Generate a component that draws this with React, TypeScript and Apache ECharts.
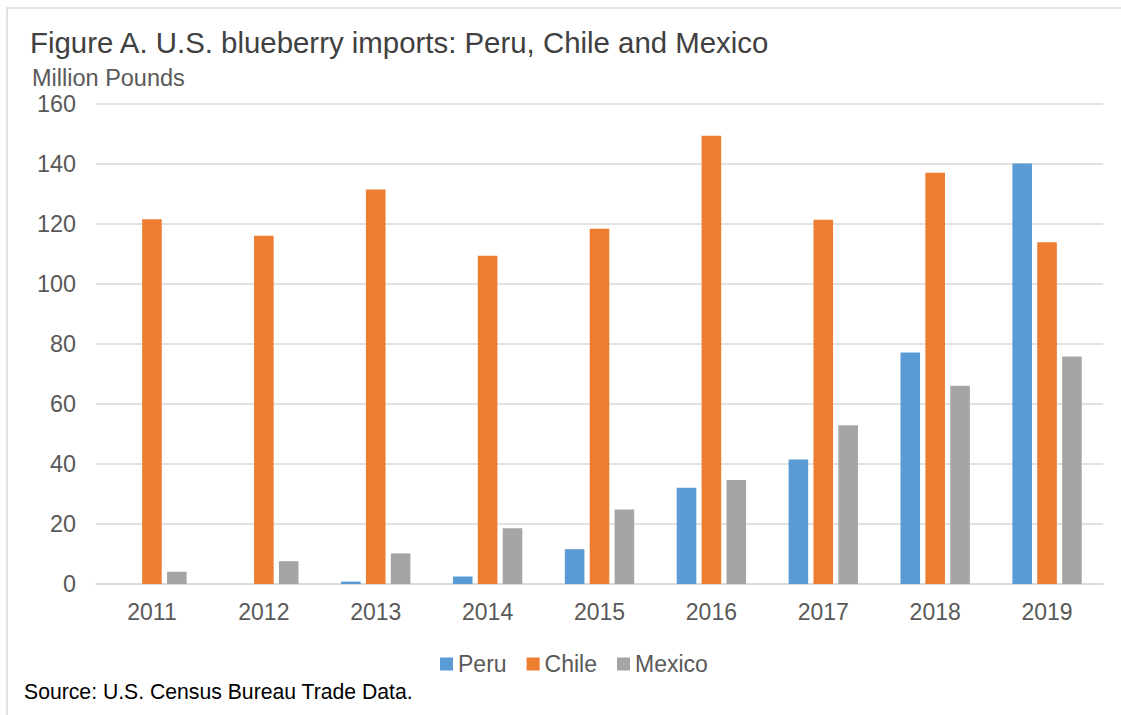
import React, { useEffect, useRef } from "react";
import * as echarts from "echarts";

const years = ["2011", "2012", "2013", "2014", "2015", "2016", "2017", "2018", "2019"];
const peru = [0, 0, 0.8, 2.5, 11.6, 32.1, 41.5, 77.2, 140.2];
const chile = [121.6, 116.1, 131.5, 109.4, 118.4, 149.4, 121.4, 137.1, 113.9];
const mexico = [4.1, 7.6, 10.2, 18.6, 24.8, 34.7, 52.9, 66.1, 75.8];
const yTicks = { min: 0, max: 160, interval: 20 };

const FONT = "'Liberation Sans', Arial, sans-serif";
const GRAY = "#595959";

export default function App() {
  const ref = useRef<HTMLDivElement>(null);
  useEffect(() => {
    if (!ref.current) return;
    const chart = echarts.init(ref.current, null, { renderer: "svg" });
    const barStyle = (color: string) => ({ color });
    chart.setOption({
      animation: false,
      backgroundColor: "#ffffff",
      textStyle: { fontFamily: FONT },
      grid: { left: 96, right: 18, top: 104, bottom: 131 },
      graphic: [
        {
          type: "rect",
          shape: { x: 7, y: 8, width: 1300, height: 900 },
          style: { fill: "none", stroke: "#D9D9D9", lineWidth: 1.5 },
          silent: true,
        },
        {
          type: "text",
          x: 30,
          y: 42,
          style: {
            text: "Figure A. U.S. blueberry imports: Peru, Chile and Mexico",
            fontSize: 29.4,
            fontFamily: FONT,
            fill: "#404040",
            verticalAlign: "middle",
          },
        },
        {
          type: "text",
          x: 32,
          y: 78,
          style: {
            text: "Million Pounds",
            fontSize: 23.5,
            fontFamily: FONT,
            fill: GRAY,
            verticalAlign: "middle",
          },
        },
        {
          type: "text",
          x: 24,
          y: 691,
          style: {
            text: "Source: U.S. Census Bureau Trade Data.",
            fontSize: 21.2,
            fontFamily: FONT,
            fill: "#000000",
            verticalAlign: "middle",
          },
        },
      ],
      legend: {
        left: 435,
        top: 647,
        itemWidth: 13,
        itemHeight: 13,
        itemGap: 20,
        icon: "rect",
        textStyle: { fontSize: 23, color: GRAY, fontFamily: FONT, lineHeight: 24 },
        data: ["Peru", "Chile", "Mexico"],
      },
      xAxis: {
        type: "category",
        data: years,
        axisLine: { lineStyle: { color: "#D9D9D9", width: 1.5 } },
        axisTick: { show: false },
        axisLabel: { fontSize: 23, color: GRAY, margin: 16, fontFamily: FONT },
      },
      yAxis: {
        type: "value",
        min: yTicks.min,
        max: yTicks.max,
        interval: yTicks.interval,
        axisLine: { show: false },
        axisTick: { show: false },
        axisLabel: { fontSize: 23.4, color: GRAY, margin: 20, fontFamily: FONT },
        splitLine: { lineStyle: { color: "#D9D9D9", width: 1.5 } },
      },
      series: [
        { name: "Peru", type: "bar", data: peru, itemStyle: barStyle("#5B9BD5"), barGap: "27%", barCategoryGap: "38%" },
        { name: "Chile", type: "bar", data: chile, itemStyle: barStyle("#ED7D31"), barGap: "27%", barCategoryGap: "38%" },
        { name: "Mexico", type: "bar", data: mexico, itemStyle: barStyle("#A5A5A5"), barGap: "27%", barCategoryGap: "38%" },
      ],
    });
    return () => chart.dispose();
  }, []);
  return (
    <div
      ref={ref}
      style={{ position: "fixed", left: 0, top: 0, width: 1121, height: 715 }}
    />
  );
}
